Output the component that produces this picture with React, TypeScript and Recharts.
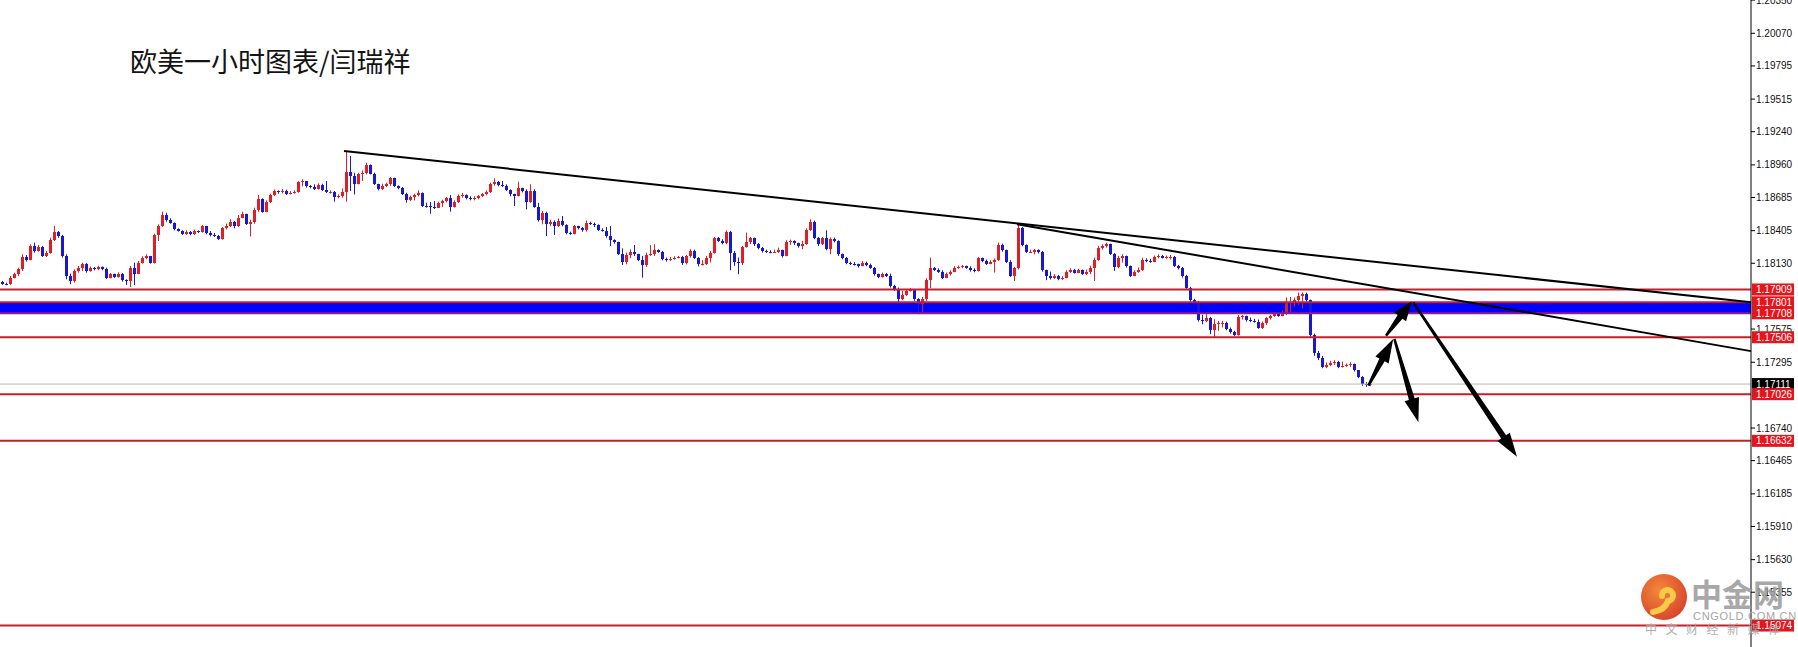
import React from 'react';
import { ComposedChart, Bar, XAxis, YAxis, ReferenceLine, ReferenceArea } from 'recharts';

// EURUSD H1 candles (open = previous close)
const firstOpen = 1.1797;

const closes = [
  1.17958, 1.17953, 1.18009, 1.18037, 1.18079, 1.18186, 1.18158, 1.18273, 1.18234, 1.18267,
  1.18189, 1.1822, 1.18329, 1.18397, 1.1836, 1.18192, 1.18023, 1.17981, 1.18065, 1.18088,
  1.18121, 1.18065, 1.18093, 1.18079, 1.18099, 1.18079, 1.18009, 1.18037, 1.18015, 1.18043,
  1.17986, 1.17981, 1.18093, 1.18043, 1.18133, 1.18172, 1.18189, 1.18135, 1.18369, 1.18442,
  1.18537, 1.18492, 1.18473, 1.18416, 1.18402, 1.18374, 1.18397, 1.18374, 1.18402, 1.18397,
  1.18442, 1.18383, 1.18369, 1.18363, 1.18335, 1.18425, 1.18447, 1.18481, 1.18442, 1.18515,
  1.18548, 1.18459, 1.18481, 1.18577, 1.18672, 1.18565, 1.1865, 1.18706, 1.18737, 1.18728,
  1.18742, 1.18717, 1.18723, 1.18734, 1.18813, 1.18821, 1.18779, 1.18773, 1.18756, 1.18793,
  1.18751, 1.18731, 1.18734, 1.18689, 1.18695, 1.18734, 1.18903, 1.18866, 1.18801, 1.1888,
  1.18894, 1.18959, 1.18886, 1.18796, 1.18754, 1.18782, 1.18801, 1.18846, 1.18782, 1.18768,
  1.18717, 1.18661, 1.18689, 1.18706, 1.18723, 1.18616, 1.18613, 1.18605, 1.18599, 1.18638,
  1.18655, 1.18678, 1.18605, 1.1865, 1.187, 1.18709, 1.18683, 1.18672, 1.1868, 1.18697,
  1.18711, 1.18731, 1.18798, 1.18815, 1.1879, 1.18784, 1.18748, 1.18711, 1.187, 1.18762,
  1.1874, 1.18647, 1.1874, 1.18607, 1.18492, 1.18554, 1.18459, 1.18481, 1.18442, 1.18487,
  1.18453, 1.18383, 1.18377, 1.18442, 1.18425, 1.18414, 1.18467, 1.18461, 1.1845, 1.18414,
  1.18405, 1.18357, 1.18326, 1.18307, 1.18211, 1.18138, 1.182, 1.18228, 1.18206, 1.18161,
  1.18113, 1.182, 1.18206, 1.18242, 1.18228, 1.18166, 1.18155, 1.18169, 1.18178, 1.1818,
  1.18133, 1.18189, 1.18234, 1.18178, 1.18121, 1.18122, 1.18178, 1.1822, 1.18341, 1.18319,
  1.18304, 1.18397, 1.1822, 1.18144, 1.18136, 1.18268, 1.18313, 1.18341, 1.1829, 1.18262,
  1.18234, 1.18229, 1.18226, 1.18229, 1.1824, 1.18192, 1.18313, 1.18319, 1.18299, 1.18276,
  1.18296, 1.18408, 1.18481, 1.18347, 1.1829, 1.18341, 1.18248, 1.18333, 1.18319, 1.18206,
  1.18178, 1.18136, 1.18127, 1.18122, 1.18108, 1.18136, 1.18116, 1.18094, 1.18038, 1.18015,
  1.1804, 1.18023, 1.17939, 1.17911, 1.17827, 1.17863, 1.17897, 1.17903, 1.17827, 1.1779,
  1.17827, 1.17987, 1.18088, 1.18077, 1.1806, 1.18009, 1.18038, 1.1806, 1.18094, 1.18097,
  1.18105, 1.18094, 1.18071, 1.18066, 1.18172, 1.1815, 1.18127, 1.18144, 1.18158, 1.18285,
  1.1824, 1.18144, 1.18023, 1.18088, 1.18425, 1.18285, 1.18226, 1.18229, 1.1824, 1.18223,
  1.18071, 1.18023, 1.18004, 1.18023, 1.17995, 1.18009, 1.1806, 1.18077, 1.18052, 1.18071,
  1.18043, 1.1806, 1.18094, 1.18158, 1.18262, 1.18274, 1.1829, 1.18212, 1.18099, 1.18178,
  1.18189, 1.18105, 1.18026, 1.1806, 1.18077, 1.18161, 1.1815, 1.18144, 1.18184, 1.18192,
  1.18178, 1.18184, 1.18186, 1.18111, 1.18088, 1.18023, 1.17925, 1.17818, 1.17807, 1.1765,
  1.17644, 1.17672, 1.17571, 1.17622, 1.17627, 1.17627, 1.17577, 1.17549, 1.17526, 1.17678,
  1.17683, 1.1765, 1.17644, 1.17638, 1.17588, 1.17627, 1.17667, 1.17683, 1.17703, 1.17689,
  1.17712, 1.17807, 1.17807, 1.17824, 1.17858, 1.17869, 1.17818, 1.17526, 1.17369, 1.17327,
  1.17256, 1.17273, 1.1729, 1.17301, 1.17256, 1.17265, 1.17268, 1.17282, 1.17228, 1.17172,
  1.1711, 1.17099, 1.1711,
];

const highs = [
  1.17981, 1.17967, 1.18023, 1.18051, 1.18093, 1.18206, 1.182, 1.1829, 1.18304, 1.18284,
  1.18276, 1.18234, 1.18346, 1.18445, 1.18402, 1.18369, 1.18206, 1.18043, 1.18079, 1.18107,
  1.18135, 1.18133, 1.18104, 1.18099, 1.1811, 1.18104, 1.18093, 1.18048, 1.18043, 1.18054,
  1.18048, 1.17995, 1.18107, 1.18135, 1.18149, 1.18189, 1.18206, 1.18192, 1.1838, 1.18458,
  1.18565, 1.18557, 1.18509, 1.18475, 1.18425, 1.18408, 1.18408, 1.18402, 1.18414, 1.18408,
  1.18453, 1.18447, 1.18402, 1.18385, 1.18369, 1.18436, 1.18464, 1.18501, 1.18487, 1.18537,
  1.18565, 1.18548, 1.18498, 1.18599, 1.18706, 1.18678, 1.18661, 1.18717, 1.18751, 1.18745,
  1.18756, 1.18751, 1.1874, 1.18745, 1.18824, 1.18838, 1.18824, 1.1879, 1.18796, 1.18804,
  1.18801, 1.18824, 1.18745, 1.1874, 1.18711, 1.18762, 1.19077, 1.19035, 1.18894, 1.18894,
  1.18914, 1.18978, 1.18964, 1.18894, 1.18801, 1.18801, 1.1881, 1.18858, 1.18852, 1.18787,
  1.18773, 1.18725, 1.187, 1.18717, 1.18745, 1.18728, 1.18641, 1.18647, 1.18655, 1.1865,
  1.18666, 1.18689, 1.18706, 1.18661, 1.18711, 1.18723, 1.18711, 1.18695, 1.18695, 1.18706,
  1.18723, 1.18745, 1.1881, 1.18846, 1.18824, 1.18824, 1.18796, 1.18754, 1.18717, 1.18818,
  1.18768, 1.18754, 1.18796, 1.18754, 1.18641, 1.18571, 1.18565, 1.18498, 1.18492, 1.18509,
  1.18529, 1.18459, 1.18397, 1.18453, 1.18447, 1.18436, 1.18492, 1.18481, 1.18473, 1.18459,
  1.18425, 1.18436, 1.18444, 1.18332, 1.18312, 1.18256, 1.1822, 1.18248, 1.18284, 1.18211,
  1.18192, 1.1822, 1.18284, 1.1829, 1.18248, 1.18234, 1.18178, 1.18183, 1.18189, 1.18192,
  1.18192, 1.182, 1.18248, 1.18245, 1.18183, 1.18156, 1.18192, 1.18234, 1.18352, 1.18352,
  1.18333, 1.18408, 1.18403, 1.18234, 1.18178, 1.18276, 1.18389, 1.18352, 1.18347, 1.18302,
  1.18268, 1.18245, 1.1824, 1.18245, 1.18262, 1.18245, 1.18324, 1.1833, 1.18324, 1.18304,
  1.18319, 1.18425, 1.18501, 1.1849, 1.18352, 1.18352, 1.18408, 1.18347, 1.18347, 1.18324,
  1.18212, 1.18184, 1.18144, 1.18139, 1.18127, 1.1815, 1.18144, 1.18127, 1.18099, 1.18043,
  1.18052, 1.18049, 1.18043, 1.17948, 1.17925, 1.17897, 1.17911, 1.1792, 1.17908, 1.17835,
  1.17846, 1.18004, 1.18178, 1.18099, 1.18088, 1.18071, 1.18052, 1.18071, 1.18105, 1.18111,
  1.18116, 1.18111, 1.18105, 1.18088, 1.18184, 1.18178, 1.18161, 1.18156, 1.1817, 1.18304,
  1.18296, 1.18245, 1.18156, 1.18099, 1.18459, 1.18436, 1.1829, 1.18245, 1.18251, 1.18248,
  1.18234, 1.18077, 1.1806, 1.18038, 1.18032, 1.18021, 1.18071, 1.18088, 1.18083, 1.18083,
  1.18077, 1.18077, 1.18111, 1.18178, 1.18276, 1.1829, 1.18304, 1.18296, 1.18217, 1.18192,
  1.18206, 1.18195, 1.18111, 1.18071, 1.18094, 1.18178, 1.18172, 1.18167, 1.18195, 1.18206,
  1.182, 1.18195, 1.182, 1.18192, 1.18116, 1.18099, 1.18032, 1.17931, 1.1783, 1.17813,
  1.17695, 1.177, 1.17678, 1.17658, 1.17644, 1.17644, 1.17638, 1.17588, 1.1756, 1.17695,
  1.17695, 1.17689, 1.17672, 1.17661, 1.17655, 1.17638, 1.17678, 1.17695, 1.17717, 1.17712,
  1.17728, 1.17841, 1.17846, 1.17841, 1.17883, 1.17883, 1.17883, 1.17824, 1.17537, 1.17391,
  1.17349, 1.17293, 1.17307, 1.17313, 1.17307, 1.17301, 1.17284, 1.17296, 1.17284, 1.17228,
  1.17178, 1.17127, 1.17121,
];

const lows = [
  1.17947, 1.17944, 1.17947, 1.18003, 1.18023, 1.18065, 1.18144, 1.18155, 1.1822, 1.18228,
  1.18183, 1.18183, 1.18211, 1.18318, 1.18346, 1.18178, 1.17995, 1.17953, 1.17967, 1.18051,
  1.18065, 1.18051, 1.18059, 1.18071, 1.18071, 1.18071, 1.17998, 1.18003, 1.18006, 1.18009,
  1.17975, 1.17947, 1.1793, 1.17947, 1.18037, 1.18127, 1.18163, 1.18127, 1.18127, 1.18318,
  1.18436, 1.18481, 1.18464, 1.18408, 1.18397, 1.18369, 1.18369, 1.18366, 1.18369, 1.18385,
  1.18388, 1.18374, 1.18357, 1.18352, 1.18326, 1.18329, 1.18416, 1.18436, 1.18425, 1.18436,
  1.18509, 1.18453, 1.18357, 1.18464, 1.18565, 1.18557, 1.1856, 1.18638, 1.18697, 1.18717,
  1.1872, 1.18706, 1.18711, 1.18717, 1.18726, 1.18779, 1.18768, 1.18762, 1.18748, 1.18751,
  1.1874, 1.18723, 1.18717, 1.1865, 1.18678, 1.18683, 1.1865, 1.1874, 1.18711, 1.18796,
  1.18824, 1.1888, 1.1888, 1.1879, 1.18745, 1.18748, 1.18773, 1.18782, 1.18773, 1.18754,
  1.18706, 1.18641, 1.18655, 1.18661, 1.18695, 1.18605, 1.18599, 1.18548, 1.18588, 1.18599,
  1.18605, 1.18644, 1.18565, 1.18599, 1.18638, 1.18683, 1.18669, 1.18661, 1.18661, 1.18669,
  1.18689, 1.18703, 1.18723, 1.18784, 1.18779, 1.18773, 1.1874, 1.18695, 1.18613, 1.18695,
  1.18728, 1.18585, 1.18641, 1.18599, 1.18481, 1.18459, 1.1836, 1.18444, 1.18369, 1.18436,
  1.18442, 1.18374, 1.18369, 1.18374, 1.18416, 1.18397, 1.18397, 1.18453, 1.18436, 1.18402,
  1.18397, 1.18346, 1.18276, 1.18296, 1.182, 1.18116, 1.18121, 1.18172, 1.18192, 1.18149,
  1.18009, 1.18099, 1.18192, 1.18192, 1.18217, 1.18155, 1.18144, 1.18149, 1.18161, 1.18172,
  1.18116, 1.18121, 1.18178, 1.18166, 1.18104, 1.18111, 1.18116, 1.18136, 1.18212, 1.1831,
  1.1829, 1.1829, 1.18071, 1.18108, 1.18038, 1.18116, 1.18262, 1.1829, 1.18276, 1.18248,
  1.1822, 1.18217, 1.18215, 1.18217, 1.18217, 1.18178, 1.18189, 1.18285, 1.18285, 1.18262,
  1.18248, 1.18285, 1.18403, 1.18333, 1.18276, 1.18285, 1.1824, 1.18206, 1.18307, 1.18192,
  1.18164, 1.18122, 1.18116, 1.18111, 1.18094, 1.18105, 1.18105, 1.18083, 1.18026, 1.18004,
  1.18009, 1.18015, 1.17925, 1.17897, 1.17785, 1.17818, 1.17855, 1.17891, 1.17813, 1.177,
  1.17714, 1.17813, 1.1792, 1.18066, 1.18049, 1.17998, 1.18004, 1.18026, 1.18054, 1.18083,
  1.18088, 1.18083, 1.1806, 1.18054, 1.1806, 1.18139, 1.18116, 1.18122, 1.18052, 1.1815,
  1.18229, 1.18133, 1.18015, 1.17981, 1.18077, 1.18274, 1.18217, 1.18217, 1.18206, 1.18212,
  1.1806, 1.17987, 1.17993, 1.17998, 1.17987, 1.1799, 1.18004, 1.18049, 1.18043, 1.18046,
  1.18032, 1.18032, 1.18038, 1.17981, 1.1815, 1.18245, 1.18262, 1.182, 1.18066, 1.18088,
  1.18136, 1.18094, 1.18015, 1.18021, 1.18049, 1.18066, 1.18139, 1.18133, 1.18139, 1.18172,
  1.1817, 1.18167, 1.18161, 1.18099, 1.18077, 1.18009, 1.17914, 1.17807, 1.17796, 1.17638,
  1.17616, 1.17633, 1.17532, 1.17504, 1.1756, 1.17588, 1.17565, 1.17537, 1.17515, 1.1752,
  1.17655, 1.17638, 1.17633, 1.1763, 1.17577, 1.17577, 1.1761, 1.17655, 1.17678, 1.17678,
  1.17683, 1.17695, 1.17712, 1.17762, 1.17779, 1.17751, 1.17807, 1.17509, 1.17349, 1.17313,
  1.17245, 1.17245, 1.17262, 1.17273, 1.17245, 1.17251, 1.17256, 1.17256, 1.17217, 1.17161,
  1.17096, 1.17088, 1.17093,
];

const axisTicks = [
  1.2035, 1.2007, 1.19795, 1.19515, 1.1924, 1.1896, 1.18685, 1.18405, 1.1813,
  1.17575, 1.17295, 1.1674, 1.16465, 1.16185, 1.1591, 1.1563, 1.15355,
];
const levelPrices = [1.17909, 1.17801, 1.17708, 1.17506, 1.17026, 1.16632, 1.15074];
const bidPrice = 1.17111;
const bandLow = 1.17708;
const bandHigh = 1.17801;

// trend lines and arrows, as [bar index, price]
const trendLines = [
  [[85.5, 1.19077], [437.25, 1.17801]],
  [[253.75, 1.1846], [437.25, 1.17389]],
];
const arrows = [
  [[341.6, 1.17098], [347.8, 1.17492]],
  [[346.0, 1.17519], [352.4, 1.17808]],
  [[348.1, 1.17492], [354.1, 1.16789]],
  [[352.8, 1.178], [378.75, 1.16497]],
];

const W = 1798;
const H = 647;
const AXIS_W = 47;
const AXIS_X = W - AXIS_W;
const UP = '#e01e26';
const DOWN = '#1818d2';
const LINE_RED = '#c81e2a';

const candles = closes.map((close, i) => ({
  i,
  open: i === 0 ? firstOpen : closes[i - 1],
  close,
  high: highs[i],
  low: lows[i],
  range: [lows[i], highs[i]],
}));

function Candle(props: any) {
  const { x, y, width, height, payload } = props;
  if (x == null || y == null || !payload) return null;
  const { open, close, high, low } = payload;
  const top = Math.min(y, y + height);
  const h = Math.abs(height);
  const k = high > low ? h / (high - low) : 0;
  const bt = Math.round(top + (high - Math.max(open, close)) * k);
  const bb = Math.max(Math.round(top + (high - Math.min(open, close)) * k), bt + 1);
  const cx = Math.round(x + width / 2);
  const color = close >= open ? UP : DOWN;
  return (
    <g>
      <line x1={cx + 0.5} x2={cx + 0.5} y1={top} y2={top + h} stroke={color} strokeWidth={1} />
      <rect x={cx - 1} y={bt} width={3} height={bb - bt} fill={color} />
    </g>
  );
}

function PriceTick(props: any) {
  const { y, payload } = props;
  const v = payload.value as number;
  const label = v.toFixed(5);
  const boxed = levelPrices.includes(v) || v === bidPrice;
  const font = { fontFamily: '"Liberation Sans", Arial, sans-serif', fontSize: 10 };
  if (boxed) {
    return (
      <g>
        <rect x={AXIS_X + 1} y={y - 6} width={42} height={12} fill={v === bidPrice ? '#000' : '#e3161d'} />
        <text x={AXIS_X + 5} y={y + 3.5} fill="#fff" {...font}>{label}</text>
      </g>
    );
  }
  return (
    <g>
      <line x1={AXIS_X} x2={AXIS_X + 4} y1={y} y2={y} stroke="#000" />
      <text x={AXIS_X + 5} y={y + 3.5} fill="#111" {...font}>{label}</text>
    </g>
  );
}

function ArrowShape(props: any) {
  const { x1, y1, x2, y2 } = props;
  const dx = x2 - x1;
  const dy = y2 - y1;
  const len = Math.hypot(dx, dy) || 1;
  const ux = dx / len;
  const uy = dy / len;
  const nx = -uy;
  const ny = ux;
  const headLen = Math.min(24, len * 0.45);
  const headHalf = 7.5;
  const bx = x2 - ux * headLen;
  const by = y2 - uy * headLen;
  const w0 = 1.2;
  const w1 = 3;
  const pts = [
    [x1 + nx * w0, y1 + ny * w0],
    [bx + nx * w1, by + ny * w1],
    [bx + nx * headHalf, by + ny * headHalf],
    [x2, y2],
    [bx - nx * headHalf, by - ny * headHalf],
    [bx - nx * w1, by - ny * w1],
    [x1 - nx * w0, y1 - ny * w0],
  ];
  return <polygon points={pts.map((p) => p.join(',')).join(' ')} fill="#000" />;
}

export default function App() {
  return (
    <div style={{ position: 'absolute', left: 0, top: 0, width: W, height: H, background: '#fff', overflow: 'hidden' }}>
      <ComposedChart width={W} height={H} data={candles} margin={{ top: 0, right: 0, bottom: 0, left: 0 }}>
        <XAxis type="number" dataKey="i" domain={[-0.5, 437.25]} hide allowDataOverflow />
        <YAxis
          orientation="right"
          type="number"
          width={AXIS_W}
          domain={[1.14893, 1.20351]}
          allowDataOverflow
          ticks={[...axisTicks, bidPrice, ...levelPrices]}
          interval={0}
          tickLine={false}
          axisLine={{ stroke: '#000', strokeWidth: 1 }}
          tick={(p: any) => <PriceTick {...p} />}
        />
        <ReferenceArea y1={bandLow} y2={bandHigh} fill="#0000ff" fillOpacity={1} stroke="none" ifOverflow="visible" />
        <ReferenceLine y={bidPrice} stroke="#b8b8b8" strokeWidth={1} />
        {levelPrices.map((p) => (
          <ReferenceLine key={p} y={p} stroke={p === bandLow ? '#8a1c8c' : LINE_RED} strokeWidth={2} />
        ))}
        <Bar dataKey="range" barSize={3} shape={(p: any) => <Candle {...p} />} isAnimationActive={false} />
        {trendLines.map((seg, k) => (
          <ReferenceLine
            key={`t${k}`}
            segment={[{ x: seg[0][0], y: seg[0][1] }, { x: seg[1][0], y: seg[1][1] }]}
            stroke="#000"
            strokeWidth={2}
            ifOverflow="visible"
          />
        ))}
        {arrows.map((seg, k) => (
          <ReferenceLine
            key={`a${k}`}
            segment={[{ x: seg[0][0], y: seg[0][1] }, { x: seg[1][0], y: seg[1][1] }]}
            ifOverflow="visible"
            shape={(p: any) => <ArrowShape {...p} />}
          />
        ))}
      </ComposedChart>

      <div
        style={{
          position: 'absolute',
          left: 130,
          top: 47,
          fontFamily: '"Noto Sans CJK SC", sans-serif',
          fontSize: 27,
          lineHeight: '27px',
          color: '#141414',
          whiteSpace: 'nowrap',
        }}
      >
        欧美一小时图表/闫瑞祥
      </div>

      <svg width={W} height={H} style={{ position: 'absolute', left: 0, top: 0, pointerEvents: 'none' }}>
        <defs>
          <radialGradient id="logoGrad" cx="40%" cy="35%" r="70%">
            <stop offset="0%" stopColor="#f2802a" />
            <stop offset="100%" stopColor="#d4341a" />
          </radialGradient>
        </defs>
        <g opacity={0.92}>
          <circle cx={1664} cy={597} r={23} fill="url(#logoGrad)" />
          <path
            d="M 1662 596 a 5.5 5.5 0 1 1 6 5 q -3 9 -15 11"
            stroke="#fbc43a"
            strokeWidth={6}
            fill="none"
            strokeLinecap="round"
          />
        </g>
        <text x={1691} y={606} fontFamily='"Noto Sans CJK SC", sans-serif' fontWeight={700} fontSize={31} fill="#9a9a9a" opacity={0.85}>
          中金网
        </text>
        <text x={1693} y={620} fontFamily='"Liberation Sans", Arial, sans-serif' fontSize={11} letterSpacing={0.7} fill="#a5a5a5">
          CNGOLD.COM.CN
        </text>
        <text x={1645} y={634} fontFamily='"Noto Sans CJK SC", sans-serif' fontSize={12} letterSpacing={8.5} fill="#a8a8a8" opacity={0.9}>
          中文财经新媒体
        </text>
      </svg>
    </div>
  );
}
